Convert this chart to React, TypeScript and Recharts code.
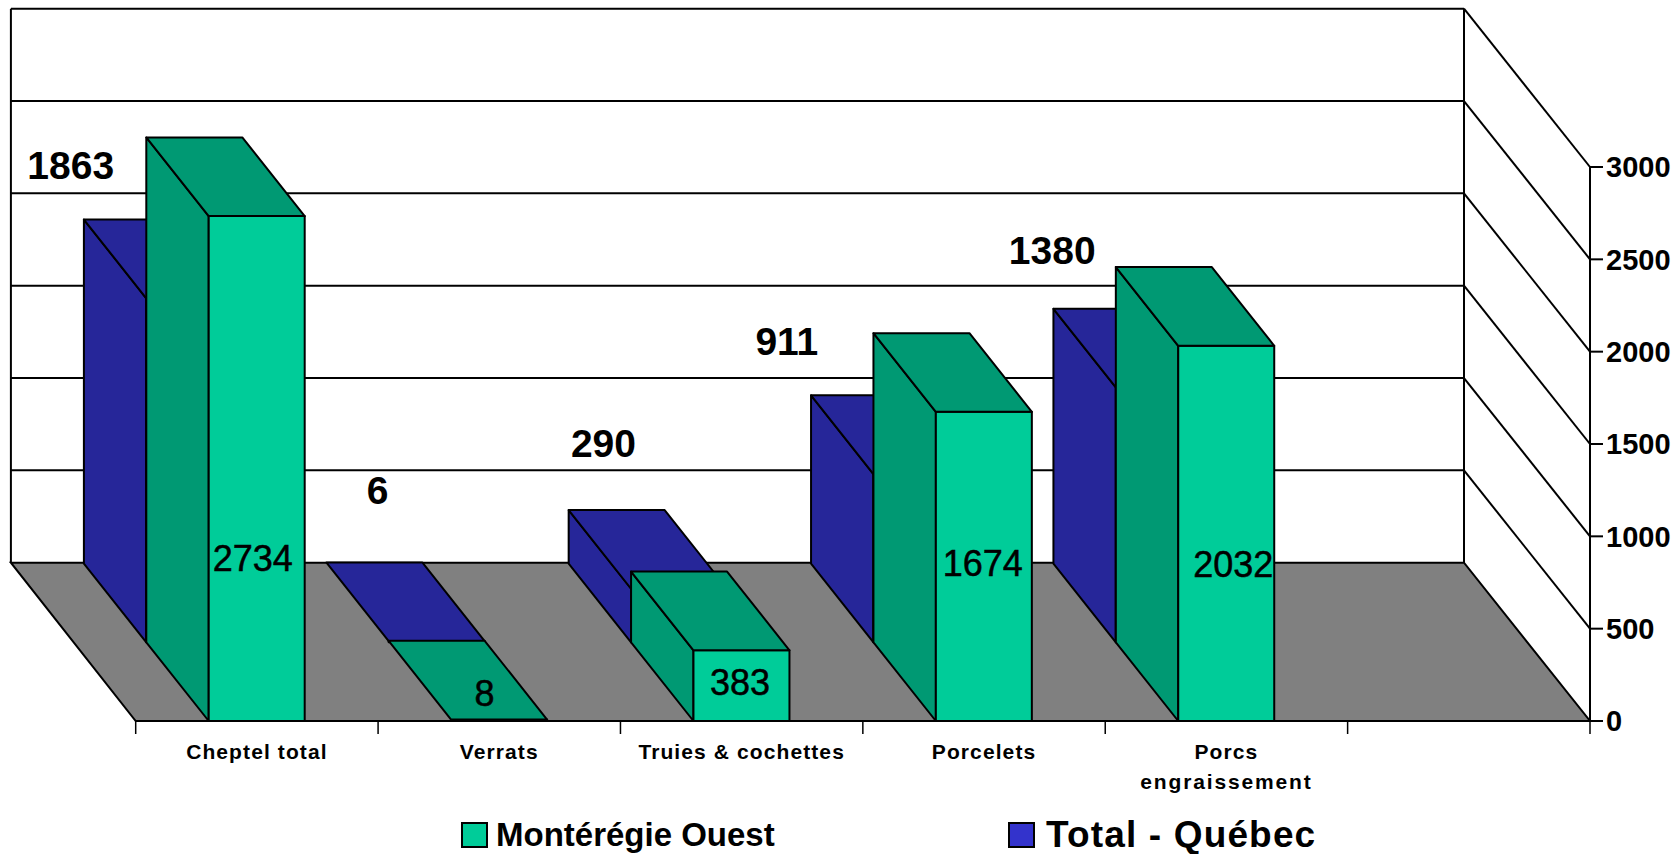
import React from "react";
import { ComposedChart, Bar, XAxis, YAxis, ReferenceArea, LabelList, Legend } from "recharts";

const categories = ["Cheptel total", "Verrats", "Truies & cochettes", "Porcelets", "Porcs\nengraissement", ""];
const quebecValues: (number | null)[] = [1863, 6, 290, 911, 1380, null];
const monteregieValues: (number | null)[] = [2734, 8, 383, 1674, 2032, null];
const yTicks = [0, 500, 1000, 1500, 2000, 2500, 3000];
const QUEBEC_NAME = "Total - Québec";
const MONT_NAME = "Montérégie Ouest";

// label placement relative to each bar (centre x, top y)
const quebecLabelOffsets = [[-186, -211], [-121.5, -229], [-138, -224], [-197, -211], [-174, -216]];
const montLabelOffsets = [[-4, 342], [-14.5, -26], [-1.5, 32], [-1, 152], [7, 219]];

const data = categories.map((c, i) => ({ name: c, quebec: quebecValues[i], mont: monteregieValues[i] }));

const FONT = "'Liberation Sans', Arial, sans-serif";
const DX = 62.4;
const DY = 78.7;
const WALL_DX = 124.8;
const WALL_DY = 158.3;
const WALL_INSET = 1.2;
const W = 1673;
const H = 854;
const BAR = 96;
const LEFT = 135.7;
const RIGHT_EDGE = 1590;
const HALF_BAND = (RIGHT_EDGE - LEFT) / 12;
const SW = 2;

function box(x: number, y: number, w: number, h: number, ox: number, oy: number, front: string, shade: string) {
  const fx = x + ox, fy = y + oy, bx = fx - DX, by = fy - DY;
  const common = { stroke: "#000", strokeWidth: SW, strokeLinejoin: "round" as const };
  return (
    <g>
      {h > 3 && <polygon points={`${bx},${by} ${fx},${fy} ${fx},${fy + h} ${bx},${by + h}`} fill={shade} {...common} />}
      <rect x={fx} y={fy} width={w} height={Math.max(h, 0.5)} fill={front} {...common} />
      <polygon points={`${bx},${by} ${bx + w},${by} ${fx + w},${fy} ${fx},${fy}`} fill={shade} {...common} />
    </g>
  );
}

const QuebecShape = (p: any) =>
  p.value == null || p.height == null ? <g /> : box(p.x, p.y, p.width, p.height, -DX, -DY, "#3333CC", "#262699");
const MontShape = (p: any) =>
  p.value == null || p.height == null ? <g /> : box(p.x, p.y, p.width, p.height, 0, 0, "#00CC99", "#009973");

const makeLabel = (offsets: number[][], size: number, weight: string, outline: number) => (p: any) => {
  const o = offsets[p.index];
  if (!o || p.value == null) return <g />;
  return (
    <text
      x={p.x + p.width / 2 + o[0]}
      y={p.y + o[1]}
      textAnchor="middle"
      dominantBaseline="central"
      fontFamily={FONT}
      fontSize={size}
      fontWeight={weight}
      fill="#000"
      stroke="#000"
      strokeWidth={outline}
    >
      {p.value}
    </text>
  );
};

const FloorShape = (p: any) => {
  const { x, y, width: w, height: h } = p;
  const by = y + h - WALL_DY;
  const bx = x - WALL_DX;
  const bw = w - WALL_INSET;
  return (
    <g>
      <polygon points={`${bx},${by} ${bx + bw},${by} ${x + w},${y + h} ${x},${y + h}`} fill="#808080" stroke="#000" strokeWidth={SW} />
      <line x1={bx} y1={y - WALL_DY} x2={bx} y2={by} stroke="#000" strokeWidth={SW} />
      <line x1={bx + bw} y1={y - WALL_DY} x2={bx + bw} y2={by} stroke="#000" strokeWidth={SW} />
    </g>
  );
};

const GridShape = (p: any) => {
  const { x, y, width: w } = p;
  const bw = w - WALL_INSET;
  return (
    <g stroke="#000" strokeWidth={SW}>
      <line x1={x - WALL_DX} y1={y - WALL_DY} x2={x - WALL_DX + bw} y2={y - WALL_DY} />
      <line x1={x - WALL_DX + bw} y1={y - WALL_DY} x2={x + w} y2={y} />
    </g>
  );
};

const XTick = (p: any) => {
  const { x, y, index, payload } = p;
  const lines = String(payload.value ?? "").split("\n");
  const axisY = y - 8;
  return (
    <g>
      <line x1={x - HALF_BAND} y1={axisY} x2={x - HALF_BAND} y2={axisY + 13} stroke="#000" strokeWidth={1.5} />
      {index === categories.length - 1 && (
        <line x1={x + HALF_BAND} y1={axisY} x2={x + HALF_BAND} y2={axisY + 13} stroke="#000" strokeWidth={1.5} />
      )}
      {lines.map((l, i) => (
        <text
          key={i}
          x={x}
          y={axisY + 38 + i * 30}
          textAnchor="middle"
          fontFamily={FONT}
          fontSize={21}
          fontWeight="bold"
          letterSpacing={i === 1 ? 1.85 : 1.1}
          fill="#000"
        >
          {l}
        </text>
      ))}
    </g>
  );
};

const LegendContent = () => {
  const item = (name: string, color: string, left: number, textLeft: number, size: number, ls: number) => (
    <React.Fragment key={name}>
      <div
        style={{
          position: "absolute",
          left,
          top: 6,
          width: 23,
          height: 22,
          background: color,
          border: "2px solid #000",
        }}
      />
      <div
        style={{
          position: "absolute",
          left: textLeft,
          top: 0,
          lineHeight: "38px",
          fontFamily: FONT,
          fontWeight: "bold",
          fontSize: size,
          letterSpacing: ls,
          whiteSpace: "nowrap",
          color: "#000",
        }}
      >
        {name}
      </div>
    </React.Fragment>
  );
  return (
    <div style={{ position: "relative", width: W, height: 38 }}>
      {item(MONT_NAME, "#00CC99", 461, 496, 33, 0)}
      {item(QUEBEC_NAME, "#3333CC", 1008, 1046, 37, 1.15)}
    </div>
  );
};

export default function App() {
  return (
    <div style={{ position: "absolute", left: 0, top: 0, width: W, height: H, background: "#fff" }}>
      <ComposedChart
        width={W}
        height={H}
        data={data}
        barSize={BAR}
        barGap={-BAR}
        margin={{ top: 167, right: 3, bottom: 55, left: LEFT }}
      >
        <XAxis
          dataKey="name"
          interval={0}
          height={40}
          tickLine={false}
          tick={<XTick />}
          axisLine={{ stroke: "#000", strokeWidth: 2 }}
        />
        <YAxis
          orientation="right"
          type="number"
          domain={[0, 3000]}
          ticks={yTicks}
          interval={0}
          width={80}
          tickSize={13}
          tickMargin={3}
          axisLine={{ stroke: "#000", strokeWidth: 2 }}
          tickLine={{ stroke: "#000", strokeWidth: 2 }}
          tick={{ fontFamily: FONT, fontSize: 29, fontWeight: "bold", fill: "#000" }}
        />
        <ReferenceArea y1={0} y2={3000} shape={<FloorShape />} ifOverflow="visible" />
        {yTicks.slice(1).map((t, i) => (
          <ReferenceArea key={t} y1={yTicks[i]} y2={t} shape={<GridShape />} ifOverflow="visible" />
        ))}
        <Bar dataKey="quebec" name={QUEBEC_NAME} shape={QuebecShape} isAnimationActive={false}>
          <LabelList dataKey="quebec" content={makeLabel(quebecLabelOffsets, 39, "bold", 0)} />
        </Bar>
        <Bar dataKey="mont" name={MONT_NAME} shape={MontShape} isAnimationActive={false}>
          <LabelList dataKey="mont" content={makeLabel(montLabelOffsets, 36, "normal", 0.5)} />
        </Bar>
        <Legend
          verticalAlign="bottom"
          height={38}
          content={<LegendContent />}
          wrapperStyle={{ position: "absolute", left: 0, top: 816, width: W, height: 38, margin: 0 }}
        />
      </ComposedChart>
    </div>
  );
}
